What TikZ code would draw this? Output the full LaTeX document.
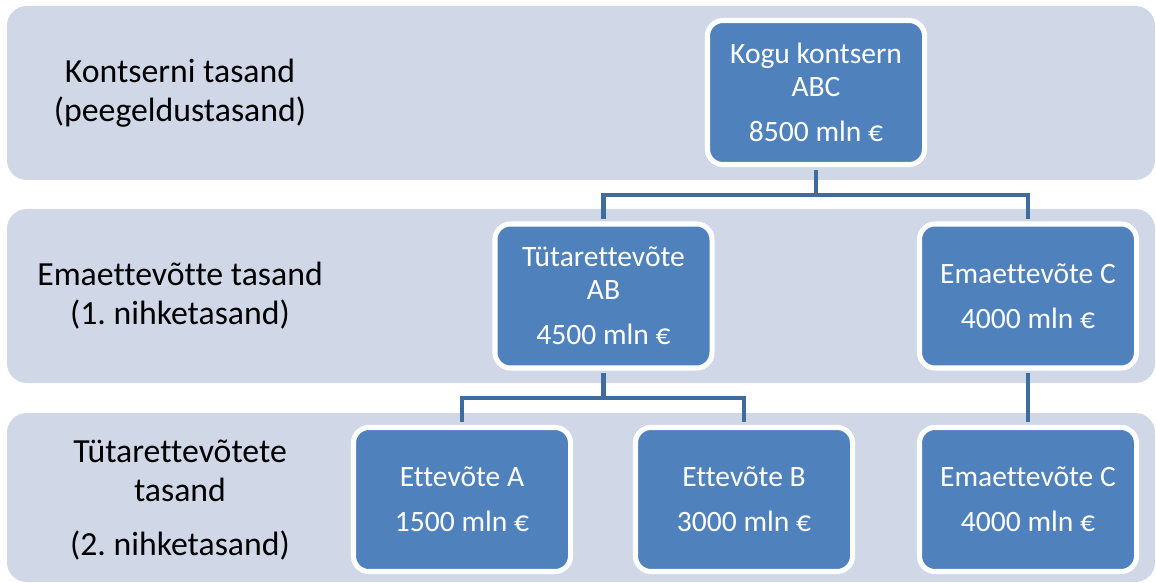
\documentclass[tikz,border=0pt]{standalone}
\usepackage{fontspec}
\setmainfont{Carlito}[Ligatures=NoCommon]
\frenchspacing
\usetikzlibrary{positioning}
\definecolor{bandfill}{HTML}{D0D8E8}
\definecolor{unitfill}{HTML}{4F81BD}
\definecolor{linkcol}{HTML}{3F6C9E}

\begin{document}
\begin{tikzpicture}[x=0.025cm, y=-0.025cm,
  every node/.style={font=\fontsize{21}{23.4}\selectfont},
  band/.style={fill=bandfill, rounded corners=14pt},
  level/.style={font=\fontsize{24}{27.6}\selectfont, align=center},
  unit/.style={draw=white, line width=3.6pt, fill=unitfill, text=white,
    rounded corners=11pt, minimum width=5.425cm, minimum height=3.6cm,
    inner sep=0pt, align=center},
  link/.style={draw=linkcol, line width=3.2pt}]
  \useasboundingbox (0,0) rectangle (1156,583);

  % Level bands
  \fill[band] (7,6) rectangle (1155,180);
  \fill[band] (7,209) rectangle (1155,383);
  \fill[band] (7,413) rectangle (1155,582);

  % Level captions
  \node[level] (lev1) at (180,93) {Kontserni tasand\\(peegeldustasand)};
  \node[level] (lev2) at (180,296) {Emaettevõtte tasand\\(1. nihketasand)};
  \node[level] (lev3) at (180,500) {Tütarettevõtete\\tasand\\[10.7pt](2. nihketasand)};

  % Units
  \node[unit] (abc) at (816,92.5) {Kogu kontsern\\ABC\\[8.5pt]8500 mln €};
  \node[unit] (ab) at (603.5,296) {Tütarettevõte\\AB\\[8.5pt]4500 mln €};
  \node[unit] (c1) at (1028,296) {Emaettevõte C\\[8.5pt]4000 mln €};
  \node[unit] (a) at (462,499.5) {Ettevõte A\\[8.5pt]1500 mln €};
  \node[unit] (b) at (744,499.5) {Ettevõte B\\[8.5pt]3000 mln €};
  \node[unit] (c2) at (1028,499.5) {Emaettevõte C\\[8.5pt]4000 mln €};

  % Links
  \coordinate (j1) at (816,195);
  \coordinate (j2) at (603.5,398);
  \draw[link, shorten <=1.8pt] (abc.south) -- (j1);
  \draw[link, shorten <=1.8pt, shorten >=1.8pt] (ab.north) |- (j1) -| (c1.north);
  \draw[link, shorten <=1.8pt] (ab.south) -- (j2);
  \draw[link, shorten <=1.8pt, shorten >=1.8pt] (a.north) |- (j2) -| (b.north);
  \draw[link, shorten <=1.8pt, shorten >=1.8pt] (c1.south) -- (c2.north);
\end{tikzpicture}
\end{document}
